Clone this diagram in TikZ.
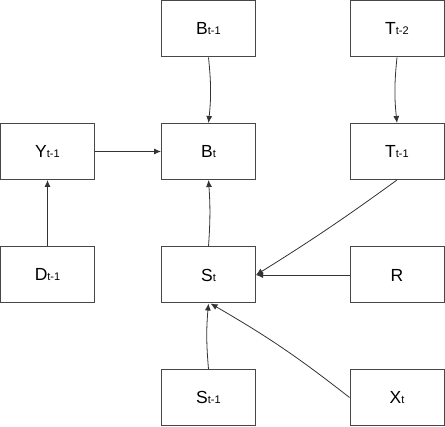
\documentclass[tikz,border=0pt]{standalone}
\usepackage{fontspec}
\setmainfont{Liberation Sans}
\usetikzlibrary{arrows.meta}
\begin{document}
\begin{tikzpicture}[x=1pt,y=-1pt,
  box/.style={draw=black!72,line width=1pt,minimum width=94pt,minimum height=56pt,inner sep=0pt,fill=white,
    font=\fontsize{17.5}{20}\selectfont},
  arr/.style={draw=black!80,line width=0.8pt,-{Latex[length=7pt,width=6pt]}}]
\useasboundingbox (0,0) rectangle (445,427);
\newcommand{\sbs}[1]{{\fontsize{11}{13}\selectfont #1}}
\node[box] (b1) at (208.5,29) {B\sbs{t-1}};
\node[box] (t2) at (397,29) {T\sbs{t-2}};
\node[box] (y1) at (47.5,151.5) {Y\sbs{t-1}};
\node[box] (bt) at (208.5,151.5) {B\sbs{t}};
\node[box] (t1) at (397,151.5) {T\sbs{t-1}};
\node[box] (d1) at (47.5,275) {D\sbs{t-1}};
\node[box] (st) at (208.5,275) {S\sbs{t}};
\node[box] (r) at (397,275) {R};
\node[box] (s1) at (208.5,397.5) {S\sbs{t-1}};
\node[box] (xt) at (397,397.5) {X\sbs{t}};
\draw[arr] (b1.south) to[bend left=6] (bt.north);
\draw[arr] (t2.south) to[bend right=6] (t1.north);
\draw[arr] (y1.east) -- (bt.west);
\draw[arr] (d1.north) -- (y1.south);
\draw[arr] (st.north) to[bend right=4] (bt.south);
\draw[arr] (t1.south) to[bend left=2] (st.east);
\draw[arr] (r.west) -- (st.east);
\draw[arr] (s1.north) to[bend left=5] (st.south);
\draw[arr] (xt.west) to[bend right=4] ([xshift=2pt]st.south);
\end{tikzpicture}
\end{document}
